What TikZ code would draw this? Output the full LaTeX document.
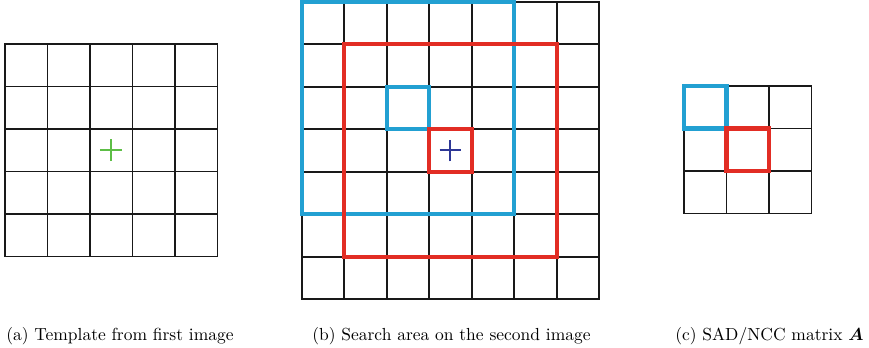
\documentclass[tikz,border=0pt]{standalone}
\usepackage{amsmath}
\usepackage{bm}
\usepackage{tikz}
\usetikzlibrary{positioning}
\usepackage{xcolor}

\definecolor{winblue}{RGB}{34,160,210}
\definecolor{winred}{RGB}{226,45,36}
\definecolor{plusgreen}{RGB}{93,190,70}
\definecolor{plusblue}{RGB}{45,55,150}

\begin{document}
\begin{tikzpicture}[
    x=0.855cm, y=0.855cm,
    cell/.style={rectangle, draw=black!90, line width=0.95pt, minimum size=0.855cm, inner sep=0pt, outer sep=0pt},
    bluebox/.style={draw=winblue, line width=2.5pt},
    redbox/.style={draw=winred, line width=2.5pt},
    plusmark/.style={line width=1.1pt},
    caption/.style={anchor=base west, inner sep=0pt, font=\normalsize}
]

\useasboundingbox (0,0) rectangle (20.447,8.165);

% ----- Template (a) -----
\begin{scope}[shift={(0.118,7.13)}]
\foreach \i in {1,...,5}{
    \foreach \j in {1,...,5}{
        \node[cell] (T\i\j) at (\i-0.5,-\j+0.5) {};
    }
}
\end{scope}
\draw[plusmark, plusgreen] ([xshift=-0.22cm]T33.center) -- ([xshift=0.22cm]T33.center);
\draw[plusmark, plusgreen] ([yshift=-0.22cm]T33.center) -- ([yshift=0.22cm]T33.center);

% ----- Search area (b) -----
\begin{scope}[shift={(7.099,8.125)}]
\foreach \i in {1,...,7}{
    \foreach \j in {1,...,7}{
        \node[cell] (S\i\j) at (\i-0.5,-\j+0.5) {};
    }
}
\end{scope}
\draw[bluebox] (S11.north west) rectangle (S55.south east);
\draw[redbox] (S22.north west) rectangle (S66.south east);
\draw[bluebox] (S33.north west) rectangle (S33.south east);
\draw[redbox] (S44.north west) rectangle (S44.south east);
\draw[plusmark, plusblue] ([xshift=-0.22cm]S44.center) -- ([xshift=0.22cm]S44.center);
\draw[plusmark, plusblue] ([yshift=-0.22cm]S44.center) -- ([yshift=0.22cm]S44.center);

% ----- Matrix (c) -----
\begin{scope}[shift={(16.094,6.141)}]
\foreach \i in {1,...,3}{
    \foreach \j in {1,...,3}{
        \node[cell] (M\i\j) at (\i-0.5,-\j+0.5) {};
    }
}
\end{scope}
\draw[bluebox] (M11.north west) rectangle (M11.south east);
\draw[redbox] (M22.north west) rectangle (M22.south east);

% ----- Captions -----
\node[caption] (capA) at (0.141,0.165) {(a) Template from first image};
\node[caption] (capB) at (7.34,0.165) {(b) Search area on the second image};
\node[caption] (capC) at (15.88,0.165) {(c) SAD/NCC matrix $\bm{A}$};

\end{tikzpicture}
\end{document}
